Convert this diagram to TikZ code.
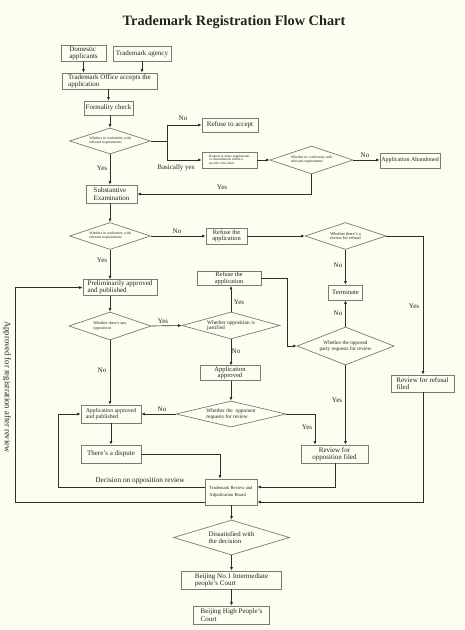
\documentclass[tikz,border=0pt]{standalone}
\usepackage{fontspec}
\setmainfont{Liberation Serif}
\usetikzlibrary{shapes.geometric,arrows.meta}
\definecolor{bg}{HTML}{FEFEF0}
\definecolor{boxc}{HTML}{7A7A7A}
\definecolor{linec}{HTML}{2E2E2E}
\definecolor{txt}{HTML}{222222}
\newcommand\myfs[2]{\fontsize{#1}{#2}\selectfont}
\tikzset{
  box/.style={draw=boxc, line width=0.7pt, inner sep=1pt, align=left, text=txt, font=\myfs{7}{7.2}},
  dia/.style={draw=boxc, line width=0.7pt, diamond, inner sep=0pt},
  dtext/.style={align=left, text=txt, inner sep=0pt},
  conn/.style={draw=linec, line width=0.65pt},
  arr/.style={conn, -{Latex[length=3.5pt,width=3pt]}},
  lab/.style={font=\myfs{7}{7}, text=txt, inner sep=0pt},
}
\begin{document}
\begin{tikzpicture}[x=1pt,y=-1pt]
\fill[bg] (0,0) rectangle (464,630);
\useasboundingbox (0,0) rectangle (464,630);

\node[font=\bfseries\myfs{14.3}{14.3}, text=txt] (title) at (234,22) {Trademark Registration Flow Chart};

% boxes
\node[box, minimum width=45pt, minimum height=15pt] (dom) at (83.5,53.5) {Domestic\\applicants};
\node[box, minimum width=58pt, minimum height=15pt] (agency) at (142,53.5) {Trademark agency};
\node[box, minimum width=95pt, minimum height=16pt] (tmo) at (109.5,81) {Trademark Office accepts the\\application};
\node[box, minimum width=49pt, minimum height=14pt] (form) at (108.5,108) {Formality check};
\node[box, minimum width=56pt, minimum height=14pt] (refacc) at (230,125) {Refuse to accept};
\node[box, minimum width=55pt, minimum height=16pt, font=\myfs{3.4}{3.8}] (req) at (229.5,160) {Request to make supplements\\or Amendments within a\\specific time limit};
\node[box, minimum width=60pt, minimum height=15pt, font=\myfs{6}{6}] (aband) at (410,160.5) {Application Abandoned};
\node[box, minimum width=51pt, minimum height=18pt] (subst) at (111.5,194) {Substantive\\Examination};
\node[box, minimum width=41pt, minimum height=16pt, align=center, font=\myfs{6.4}{6.4}] (ref1) at (226.5,236) {Refuse the\\application};
\node[box, minimum width=34pt, minimum height=15pt, font=\myfs{6.6}{6.6}] (term) at (345.5,292.5) {Terminate};
\node[box, minimum width=63pt, minimum height=17pt] (refrev) at (422.5,383.5) {Review for refusal\\filed};
\node[box, minimum width=74pt, minimum height=15pt] (prelim) at (120,287.5) {Preliminarily approved\\and published};
\node[box, minimum width=64pt, minimum height=13pt, align=center, font=\myfs{6.4}{6.2}] (ref2) at (229,278.5) {Refuse the\\application};
\node[box, minimum width=60pt, minimum height=14pt, align=center, font=\myfs{6.6}{6.4}] (appr) at (230,373) {Application\\approved};
\node[box, minimum width=60pt, minimum height=18pt, font=\myfs{5.8}{6}] (apppub) at (111,414) {Application approved\\and published};
\node[box, minimum width=60pt, minimum height=18pt] (disp) at (111,454) {There's a dispute};
\node[box, minimum width=67pt, minimum height=18pt, align=center] (revopp) at (334.5,454) {Review for\\opposition filed};
\node[box, minimum width=52pt, minimum height=26pt, font=\myfs{4.6}{7}] (trab) at (231,492) {Trademark Review and\\Adjudication Board};
\node[box, minimum width=100pt, minimum height=18pt] (bj1) at (231.5,580) {Beijing No.1 Intermediate\\people's Court};
\node[box, minimum width=76pt, minimum height=18pt] (bjh) at (231.5,615) {Beijing High People's\\Court};

% diamonds
\node[dia, minimum width=81pt, minimum height=26pt] (d1) at (110,141) {};
\node[dtext, font=\myfs{3.7}{4}] at (d1) {Whether in conformity with\\relevant requirements};
\node[dia, minimum width=83pt, minimum height=28pt] (d2) at (311.5,160) {};
\node[dtext, font=\myfs{3.7}{4}] at (d2) {Whether in conformity with\\relevant requirements};
\node[dia, minimum width=81pt, minimum height=27pt] (d3) at (110,236) {};
\node[dtext, font=\myfs{3.7}{4}] at (d3) {Whether in conformity with\\relevant requirements};
\node[dia, minimum width=81pt, minimum height=27pt] (d4) at (345.5,236) {};
\node[dtext, font=\myfs{4.3}{4.3}, align=center] at (d4) {Whether there's a\\review for refusal};
\node[dia, minimum width=82pt, minimum height=28pt] (d5) at (110,326) {};
\node[dtext, font=\myfs{4.1}{4.3}] at (d5) {Whether there's any\\opposition};
\node[dia, minimum width=98pt, minimum height=27pt] (d6) at (231,325.5) {};
\node[dtext, font=\myfs{5.4}{5.6}] at (d6) {Whether opposition is\\justified};
\node[dia, minimum width=97pt, minimum height=38pt] (d7) at (345.5,346) {};
\node[dtext, font=\myfs{5.2}{5.6}, align=center] at (d7) {Whether the opposed\\party requests for review};
\node[dia, minimum width=110pt, minimum height=26pt] (d8) at (231,414) {};
\node[dtext, font=\myfs{5.4}{5.8}] at (d8) {Whether the\ \ opponent\\requests for review};
\node[dia, minimum width=116pt, minimum height=35pt] (d9) at (231.5,537.5) {};
\node[dtext, font=\myfs{6.8}{6.8}] at (d9) {Dissatisfied with\\the decision};

% vertical label
\node[lab, rotate=-90, font=\myfs{8.6}{8.6}] (vlab) at (7,387) {Approved for registration after review};

% connectors
\draw[arr] (dom.south) -- (dom.south |- tmo.north);
\draw[arr] (agency.south) -- (agency.south |- tmo.north);
\draw[arr] (form.north |- tmo.south) -- (form.north);
\draw[arr] (d1.north |- form.south) -- (d1.north);
\coordinate (j1) at (167,141);
\draw[conn] (d1.east) -- (j1);
\draw[arr] (j1) |- (refacc.west);
\draw[arr] (j1) |- (req.west);
\node[lab] at (183,118) {No};
\node[lab] at (176,168) {Basically yes};
\draw[arr] (req.east) -- (d2.west);
\draw[arr] (d2.east) -- (aband.west |- d2.east);
\node[lab] at (365,155) {No};
\draw[arr] (d2.south) |- (subst.east);
\node[lab] at (222,187) {Yes};
\draw[arr] (d1.south) -- (d1.south |- subst.north);
\node[lab] at (102,168) {Yes};
\draw[arr] (d3.north |- subst.south) -- (d3.north);
\draw[arr] (d3.east) -- (ref1.west);
\node[lab] at (177,231) {No};
\draw[arr] (ref1.east) -- (d4.west);
\draw[arr] (d4.south) -- (term.north);
\node[lab] at (338,265) {No};
\coordinate (j2) at (423,236);
\draw[arr] (d4.east) -- (j2) -- (j2 |- refrev.north);
\node[lab] at (414,306) {Yes};
\draw[arr] (d3.south) -- (d3.south |- prelim.north);
\node[lab] at (102,260) {Yes};
\draw[arr] (d5.north |- prelim.south) -- (d5.north);
\draw[arr] (d5.east) -- (d6.west);
\node[lab] at (163,321) {Yes};
\draw[arr] (d6.north) -- (d6.north |- ref2.south);
\node[lab] at (239,302) {Yes};
\coordinate (j3) at (287,278.5);
\draw[arr] (ref2.east) -- (j3) |- (d7.west);
\draw[arr] (d7.north) -- (term.south);
\node[lab] at (338,313) {No};
\draw[arr] (d6.south) -- (d6.south |- appr.north);
\node[lab] at (236,351) {No};
\draw[arr] (d5.south) -- (d5.south |- apppub.north);
\node[lab] at (102,370) {No};
\draw[arr] (d8.north |- appr.south) -- (d8.north);
\draw[arr] (d8.west) -- (apppub.east);
\node[lab] at (162,409) {No};
\coordinate (j4) at (315,414);
\draw[arr] (d8.east) -- (j4) -- (j4 |- revopp.north);
\node[lab] at (307,427) {Yes};
\draw[arr] (d7.south) -- (d7.south |- revopp.north);
\node[lab] at (337,400) {Yes};
\draw[arr] (apppub.south) -- (disp.north);
\coordinate (j5) at (220,454);
\draw[arr] (disp.east) -- (j5) -- (j5 |- trab.north);
\coordinate (j6) at (58,487);
\draw[arr] (trab.west |- j6) -- (j6) |- (apppub.west);
\node[lab, font=\myfs{7.3}{7.3}] at (140,481) {Decision on opposition review};
\coordinate (j7) at (15,502);
\draw[arr] (trab.west |- j7) -- (j7) |- (prelim.west);
\coordinate (j8) at (335,487);
\draw[arr] (revopp.south -| j8) -- (j8) -- (trab.east |- j8);
\coordinate (j9) at (423,502);
\draw[arr] (refrev.south -| j9) -- (j9) -- (trab.east |- j9);
\draw[arr] (trab.south -| d9.north) -- (d9.north);
\draw[arr] (d9.south) -- (bj1.north);
\draw[arr] (bj1.south) -- (bjh.north);
\end{tikzpicture}
\end{document}
